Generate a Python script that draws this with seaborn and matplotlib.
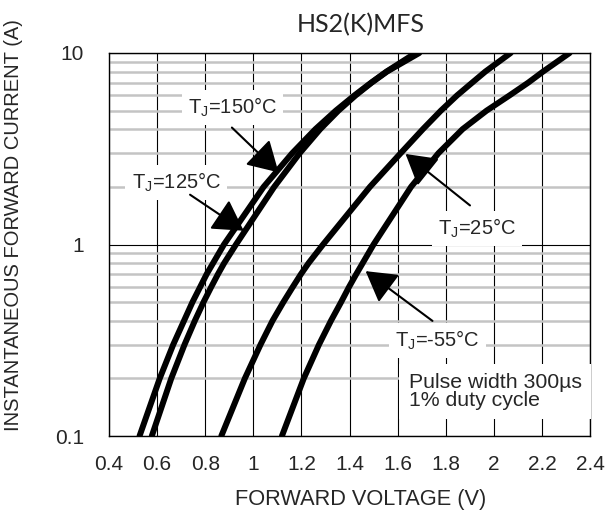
import matplotlib
matplotlib.use('Agg')
import matplotlib.pyplot as plt
from matplotlib.ticker import FixedLocator, LogLocator, NullFormatter
import seaborn as sns
import pandas as pd

# Forward current (A) / forward voltage (V)
i_150 = [0.1, 0.2, 0.3, 0.4, 0.5, 0.6, 0.7, 1, 2, 3, 4, 5, 6, 7, 8, 10]
v_150 = [0.527, 0.611, 0.667, 0.712, 0.747, 0.779, 0.806, 0.878, 1.043, 1.162,
         1.258, 1.343, 1.42, 1.49, 1.554, 1.675]

i_125 = [0.1, 0.2, 0.3, 0.4, 0.5, 0.6, 0.7, 0.8, 1, 2, 3, 4, 5, 6, 7, 8, 10]
v_125 = [0.578, 0.659, 0.714, 0.757, 0.793, 0.825, 0.853, 0.879, 0.928, 1.087,
         1.193, 1.278, 1.354, 1.425, 1.492, 1.556, 1.69]

i_25 = [0.1, 0.2, 0.3, 0.4, 0.5, 0.6, 0.7, 0.8, 1, 2, 3, 4, 5, 6, 7, 8, 10]
v_25 = [0.867, 0.965, 1.03, 1.08, 1.125, 1.164, 1.198, 1.23, 1.29, 1.485,
        1.613, 1.705, 1.78, 1.847, 1.91, 1.965, 2.07]

i_m55 = [0.1, 0.2, 0.3, 0.4, 0.5, 0.6, 0.7, 1, 2, 3, 4, 5, 6, 7, 8, 10]
v_m55 = [1.119, 1.21, 1.273, 1.323, 1.365, 1.398, 1.428, 1.5, 1.656, 1.77,
         1.87, 1.97, 2.065, 2.143, 2.205, 2.315]

x_ticks = [0.4, 0.6, 0.8, 1, 1.2, 1.4, 1.6, 1.8, 2, 2.2, 2.4]
x_tick_labels = ['0.4', '0.6', '0.8', '1', '1.2', '1.4', '1.6', '1.8', '2', '2.2', '2.4']
y_ticks = [0.1, 1, 10]
y_tick_labels = ['0.1', '1', '10']

# label text, text position, arrow tail, arrow tip  (V, A)
labels = [
    ('150', (0.913, 5.19), (0.911, 4.08), (1.105, 2.38)),
    ('125', (0.679, 2.11), (0.737, 1.82), (0.960, 1.18)),
    ('25', (1.932, 1.21), (1.901, 1.60), (1.633, 2.97)),
    ('-55', (1.765, 0.316), (1.745, 0.399), (1.467, 0.726)),
]

frames = []
for name, i_vals, v_vals in [('150', i_150, v_150), ('125', i_125, v_125),
                             ('25', i_25, v_25), ('-55', i_m55, v_m55)]:
    frames.append(pd.DataFrame({'V': v_vals, 'I': i_vals, 'Tj': name}))
df = pd.concat(frames, ignore_index=True)

sns.set_style('white')
plt.rcParams['font.family'] = ['Liberation Sans', 'DejaVu Sans']
plt.rcParams['mathtext.fontset'] = 'custom'
plt.rcParams['mathtext.rm'] = 'Liberation Sans'

fs = 15
fig = plt.figure(figsize=(6.15, 5.15), dpi=100)
ax = fig.add_axes([109 / 615, 79 / 515, 481 / 615, 383 / 515])

sns.lineplot(data=df, x='V', y='I', hue='Tj', units='Tj', estimator=None, sort=False,
             palette=['black'] * 4, linewidth=4.3, legend=False, ax=ax, zorder=5)
for ln in ax.lines:
    ln.set_solid_joinstyle('round')

ax.set_yscale('log')
ax.set_xlim(0.4, 2.4)
ax.set_ylim(0.1, 10)

ax.xaxis.set_major_locator(FixedLocator(x_ticks))
ax.set_xticklabels(x_tick_labels)
ax.yaxis.set_major_locator(FixedLocator(y_ticks))
ax.set_yticklabels(y_tick_labels)
ax.yaxis.set_minor_locator(LogLocator(base=10, subs=range(2, 10)))
ax.yaxis.set_minor_formatter(NullFormatter())
ax.tick_params(axis='x', which='both', length=0, pad=14, labelsize=fs)
ax.tick_params(axis='y', which='both', length=0, pad=18, labelsize=fs)

ax.grid(True, which='major', axis='both', color='black', linewidth=0.8)
ax.grid(True, which='minor', axis='y', color='#c4c4c4', linewidth=1.8)
ax.set_axisbelow(True)
for sp in ax.spines.values():
    sp.set_color('black')
    sp.set_linewidth(1.0)

ax.set_xlabel('FORWARD VOLTAGE (V)', fontsize=15.7)
ax.set_ylabel('INSTANTANEOUS FORWARD CURRENT (A)', fontsize=14.5)
ax.xaxis.set_label_coords(0.524, -0.138)
ax.yaxis.set_label_coords(-0.179, 0.551)

fig.text(361 / 615, 1 - 25 / 515, 'HS2(K)MFS', fontsize=18, family='Lato',
         ha='center', va='center')

box = dict(boxstyle='square,pad=0.3', facecolor='white', edgecolor='none')
for name, txt_pos, tail, tip in labels:
    ax.text(txt_pos[0], txt_pos[1], r'T$_\mathregular{J}$=' + name + '°C', fontsize=14.5,
            ha='center', va='center', bbox=box, zorder=3)
    ax.annotate('', xy=tip, xytext=tail,
                arrowprops=dict(arrowstyle='-|>,head_length=0.72,head_width=0.42',
                                color='black', lw=1.5, mutation_scale=26,
                                shrinkA=0, shrinkB=0), zorder=6)

ax.text(1.647, 0.171, 'Pulse width 300µs\n1% duty cycle', fontsize=15.3,
        ha='left', va='center', linespacing=0.9,
        bbox=dict(boxstyle='square,pad=0.45', facecolor='white', edgecolor='none'),
        zorder=3)

fig.savefig('out.png', dpi=100)
